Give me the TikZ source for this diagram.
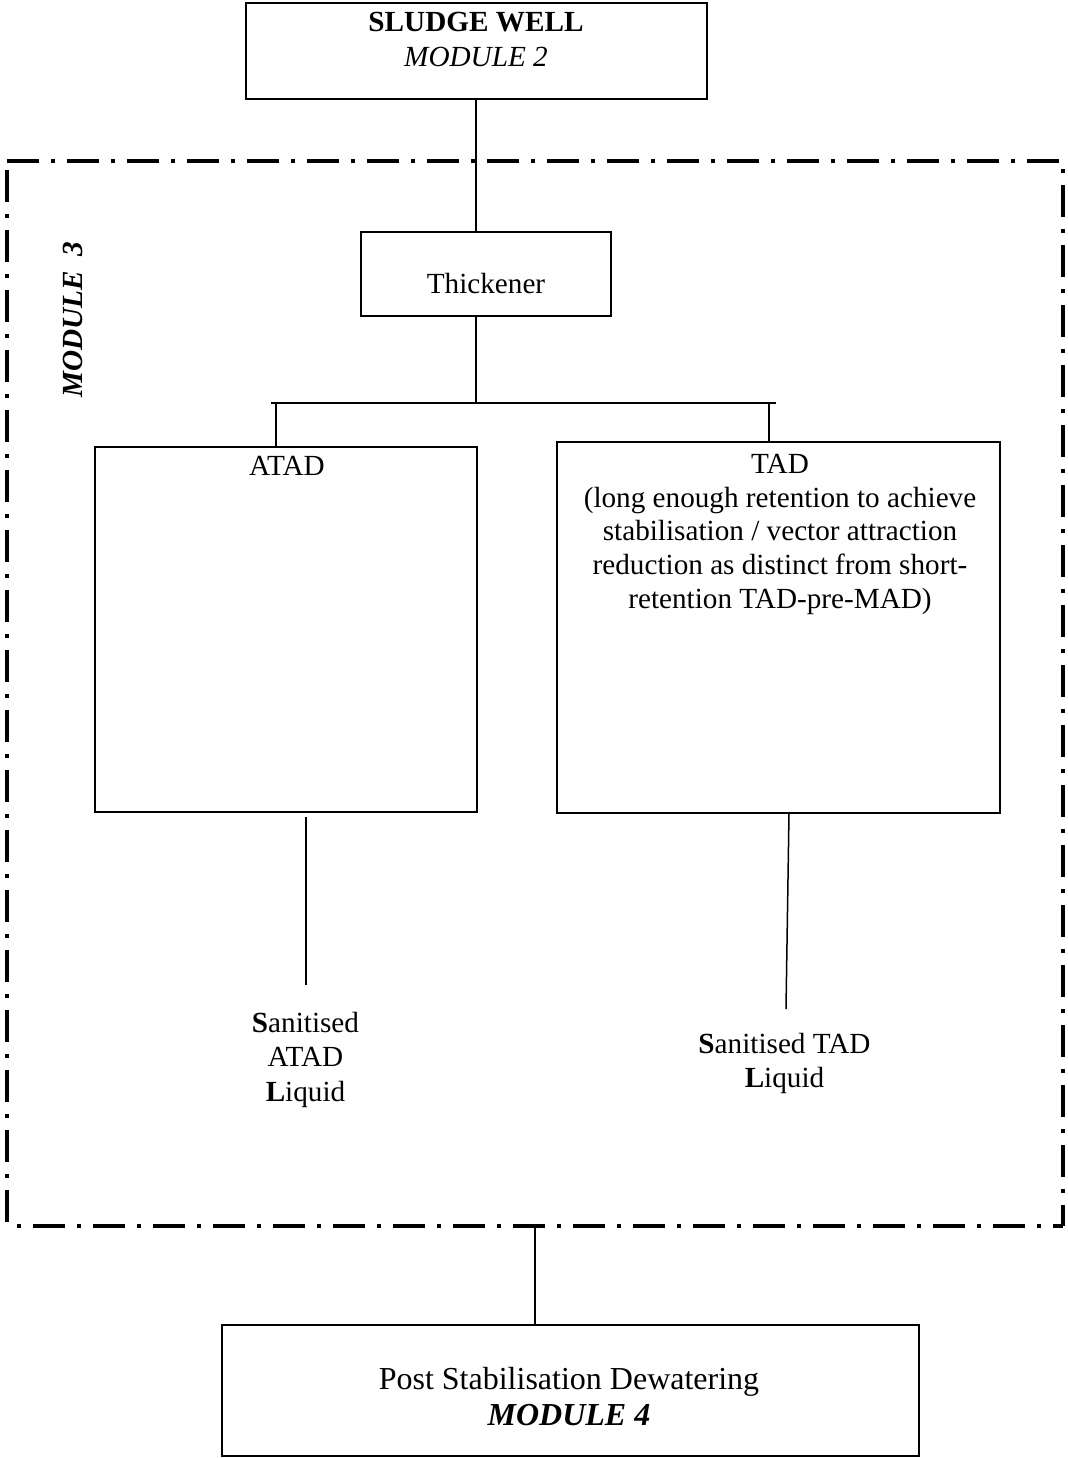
\documentclass[tikz,border=0pt]{standalone}
\usepackage{fontspec}
\setmainfont{Liberation Serif}
\begin{document}
\begin{tikzpicture}[x=0.5pt,y=-0.5pt,
  blk/.style={draw, line width=1pt, rectangle, inner sep=0pt},
  conn/.style={line width=0.75pt},
  txt/.style={inner sep=0pt, anchor=base, font=\fontsize{14.6}{17}\selectfont},
  bigtxt/.style={inner sep=0pt, anchor=base, font=\fontsize{16}{18}\selectfont},
  dashdot/.style={line width=1.75pt, dash pattern=on 16pt off 6pt on 2pt off 6pt}]
\useasboundingbox (0,0) rectangle (1067,1458);

% module 3 border
\coordinate (TL) at (7,161);
\coordinate (TR) at (1063,161);
\coordinate (BL) at (7,1226);
\coordinate (BR) at (1063,1226);
\draw[dashdot] (TL) -- (TR);
\draw[dashdot, dash phase=25.5pt] (TL) -- (BL);
\draw[dashdot, dash phase=18pt] (TR) -- (BR);
\draw[dashdot, dash phase=17pt] (BL) -- (BR);
\node[txt, rotate=90, font=\fontsize{14.6}{17}\selectfont\bfseries\itshape] (m3) at (83,320) {MODULE\ \ 3};

% boxes
\node[blk, minimum width=230.5pt, minimum height=48pt] (sw) at (476.5,51) {};
\node[blk, minimum width=125pt, minimum height=42pt] (th) at (486,274) {};
\node[blk, minimum width=191pt, minimum height=182.5pt] (atad) at (286,629.5) {};
\node[blk, minimum width=221.5pt, minimum height=185.5pt] (tad) at (778.5,627.5) {};
\node[blk, minimum width=348.5pt, minimum height=65.5pt] (post) at (570.5,1390.5) {};

% texts
\node[txt] (swt1) at (476,31) {\textbf{SLUDGE WELL}};
\node[txt] (swt2) at (476,66) {\textit{MODULE 2}};
\node[txt] (tht) at (486,293) {Thickener};
\node[txt] (atadt) at (287,475) {ATAD};
\node[txt] (tadt1) at (780,473) {TAD};
\node[txt] (tadt2) at (780,507) {(long enough retention to achieve};
\node[txt] (tadt3) at (780,540.5) {stabilisation / vector attraction};
\node[txt] (tadt4) at (780,574) {reduction as distinct from short-};
\node[txt] (tadt5) at (780,608) {retention TAD-pre-MAD)};
\node[txt] (sa1) at (305.5,1032) {\textbf{S}anitised};
\node[txt] (sa2) at (305.5,1066.5) {ATAD};
\node[txt] (sa3) at (305.5,1101) {\textbf{L}iquid};
\node[txt] (st1) at (784.5,1053) {\textbf{S}anitised TAD};
\node[txt] (st2) at (784.5,1087) {\textbf{L}iquid};
\node[bigtxt] (pt1) at (569,1389) {Post Stabilisation Dewatering};
\node[bigtxt] (pt2) at (569,1425) {\textbf{\textit{MODULE 4}}};

% connectors
\coordinate (barC) at (476,403);
\coordinate (barL) at (271,403);
\coordinate (barR) at (776,403);
\coordinate (dl) at (276,403);
\coordinate (dr) at (769,403);
\draw[conn] (sw.south -| barC) -- (th.north -| barC);
\draw[conn] (th.south -| barC) -- (barC);
\draw[conn] (barL) -- (barR);
\draw[conn] (dl) -- (atad.north -| dl);
\draw[conn] (dr) -- (tad.north -| dr);
\coordinate (a1) at (306,817);
\coordinate (a2) at (306,985);
\draw[conn] (a1) -- (a2);
\coordinate (t1) at (789,813);
\coordinate (t2) at (786,1009);
\draw[conn] (tad.south -| t1) -- (t2);
\coordinate (pc) at (535,1226);
\draw[conn] (pc) -- (post.north -| pc);
\end{tikzpicture}
\end{document}
